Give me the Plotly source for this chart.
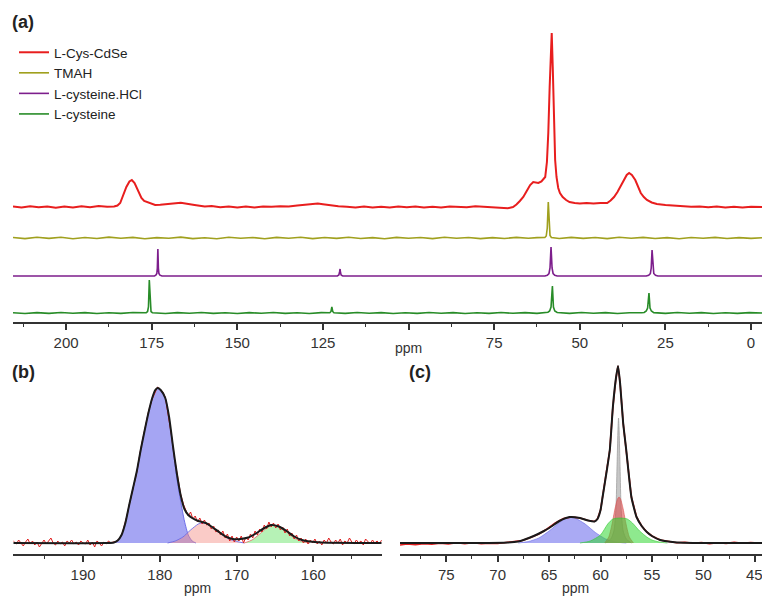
import plotly.graph_objects as go

# ---------------- Panel (a): stacked 13C spectra (ppm, intensity) ----------------
cdse = [(215.5,0.5),(213,-0.5),(210.5,0.8),(208,-0.3),(205.5,0.6),(203,-0.8),(200.5,0.4),(198,-0.5),
        (195.5,0.7),(193,-0.2),(190.5,0.9),(188,0.3),(186,0.6),(185,1.5),(184.2,4),(183.3,12),(182.4,20),
        (181.5,25.5),(180.8,27),(180,24),(179,16),(178,9),(177.2,6),(176.4,5),(175.5,3.5),(174,2),
        (172.5,2.2),(171,2.5),(169.5,3),(168,3.8),(166.5,4.2),(165.5,3.8),(164,3),(162.5,2),(161,1.2),
        (159.5,0.5),(157.5,1),(155,-0.3),(152.5,0.6),(150,-0.5),(147.5,0.4),(145,-0.4),(142.5,0.5),
        (140,0.2),(137.5,0.8),(135,0.5),(132.5,1.5),(130,2.5),(128,3.2),(126.5,3.5),(125,2.8),(123,1.8),
        (120.5,0.8),(118,0.2),(115.5,-0.5),(113,0.5),(110.5,-0.4),(108,0.3),(105.5,-0.6),(103,0.4),
        (100.5,-0.3),(98,0.5),(95.5,-0.5),(93,0.2),(90.5,-0.4),(88,0.6),(85.5,0.2),(83,-0.3),(80.5,0.8),
        (78,0.3),(75.5,-0.4),(73,-1),(71,-1.2),(69.5,0),(68.5,2.5),(67.5,6),(66.5,10),(65.5,16),(64.5,22),
        (63.6,25),(62.8,24.5),(62.1,24),(61.2,25.5),(60.6,27.5),(60.1,30),(59.6,45),(59.2,74),(58.8,120),
        (58.5,155),(58.2,174),(57.9,140),(57.6,90),(57.2,47),(56.8,30),(56.3,19),(55.8,14),(55,10),(54,7),
        (53,5),(51.5,4),(50,3.5),(48,4),(46,3.5),(44,4),(42,4),(41,6.5),(40,10),(39,15),(38.2,20),
        (37.2,27),(36.3,32),(35.6,34),(34.8,32),(33.8,27),(33,20),(32.2,14),(31.3,10),(30.4,7),(29,4.5),
        (27.5,3),(25,2),(22.5,1.5),(20,1),(17.5,0.3),(15,0.6),(12.5,-0.3),(10,0.5),(7.5,-0.4),(5,0.3),
        (2.5,-0.5),(0,0.3),(-3.2,0)]

tmah = [(215.5,0.5),(212,-0.6),(208.5,0.7),(205,-0.4),(201.5,0.8),(198,-0.7),(194.5,0.5),(191,-0.5),
        (187.5,0.9),(184,-0.3),(180.5,0.6),(177,-0.8),(173.5,0.4),(170,-0.2),(166.5,0.9),(163,-0.6),
        (159.5,0.3),(156,-0.7),(152.5,0.8),(149,-0.3),(145.5,0.5),(142,-0.8),(138.5,0.6),(135,-0.2),
        (131.5,0.7),(128,-0.6),(124.5,0.5),(121,-0.4),(117.5,0.8),(114,-0.5),(110.5,0.4),(107,-0.7),
        (103.5,0.6),(100,-0.3),(96.5,0.5),(93,-0.6),(89.5,0.7),(86,-0.2),(82.5,0.5),(79,-0.6),(75.5,0.4),
        (72,-0.5),(68.5,0.6),(65,-0.3),(62.5,0.4),(60.8,0),(60.2,0.5),(59.8,2),(59.5,10),(59.2,36),
        (58.95,10),(58.7,2.5),(58.3,0.5),(56,-0.5),(52.5,0.6),(49,-0.4),(45.5,0.5),(42,-0.6),(38.5,0.7),
        (35,-0.2),(31.5,0.6),(28,-0.5),(24.5,0.4),(21,-0.7),(17.5,0.5),(14,-0.3),(10.5,0.6),(7,-0.5),
        (3.5,0.4),(0,-0.4),(-3.2,0.3)]

cys_hcl = [(215.5,0),(174.2,0),(173.8,0.8),(173.5,2.5),(173.35,8),(173.2,27),(173.05,8),(172.9,2.5),
           (172.6,0.8),(172,0),(120.8,0),(120.35,1),(120.15,4),(120.0,7),(119.85,3),(119.65,0.8),(119.2,0),
           (60.2,0),(59.5,0.8),(59.0,2.5),(58.7,8),(58.4,29),(58.1,8),(57.8,2.5),(57.3,0.8),(56.6,0),
           (30.6,0),(29.9,0.8),(29.4,2.5),(29.15,8),(28.9,26),(28.65,8),(28.4,2.5),(27.9,0.8),(27.2,0),
           (-3.2,0)]

cys = [(215.5,0.3),(212,-0.5),(208.5,0.4),(205,-0.4),(201.5,0.5),(198,-0.3),(194.5,0.4),(191,-0.5),
       (187.5,0.3),(184,-0.4),(180.5,0.5),(177.5,-0.2),(176.6,0.3),(176.2,1.5),(175.95,6),(175.7,33),
       (175.45,6),(175.2,1.5),(174.8,0.3),(171,-0.5),(167.5,0.4),(164,-0.3),(160.5,0.5),(157,-0.4),
       (153.5,0.3),(150,-0.5),(146.5,0.4),(143,-0.2),(139.5,0.5),(136,-0.4),(132.5,0.3),(129,-0.5),
       (125.5,0.4),(123,0.2),(122.65,1.5),(122.4,6),(122.15,1.5),(121.8,0.2),(118.5,-0.4),(115,0.5),
       (111.5,-0.3),(108,0.4),(104.5,-0.5),(101,0.3),(97.5,-0.4),(94,0.5),(90.5,-0.3),(87,0.4),
       (83.5,-0.5),(80,0.3),(76.5,-0.4),(73,0.5),(69.5,-0.3),(66,0.4),(62.5,-0.4),(60,0.3),(59.3,0.8),
       (58.8,2),(58.4,6),(58.0,27),(57.7,6),(57.3,2),(56.6,0.5),(53,-0.4),(49.5,0.5),(46,-0.3),
       (42.5,0.4),(39,-0.5),(35.5,0.3),(32,0.2),(31.2,0.5),(30.6,2),(30.2,5),(29.8,20),(29.5,5),
       (29.1,2),(28.4,0.4),(25,-0.4),(21.5,0.5),(18,-0.3),(14.5,0.4),(11,-0.5),(7.5,0.3),(4,-0.4),
       (0.5,0.4),(-3.2,0)]

series_names = ["L-Cys-CdSe", "TMAH", "L-cysteine.HCl", "L-cysteine"]
series_data = [cdse, tmah, cys_hcl, cys]

# ---------------- Panel (b): carbonyl region fit ----------------
b_exp = [(199.1,2),(198.7,-1),(198.4,3),(198.1,0),(197.8,-3),(197.5,1),(197.2,4),(196.9,-1),(196.6,2),
         (196.3,-2),(196.0,1),(195.7,-4),(195.4,0),(195.1,3),(194.8,-1),(194.5,2),(194.2,5),(193.9,0),
         (193.6,-2),(193.3,2),(193.0,-1),(192.7,1),(192.4,-3),(192.1,2),(191.8,0),(191.5,3),(191.2,-1),
         (190.9,1),(190.6,-2),(190.3,2),(190.0,0),(189.7,-1),(189.4,3),(189.1,-2),(188.8,1),(188.5,-4),
         (188.2,2),(187.9,0),(187.6,-3),(187.3,1),(187.0,-1),(186.7,2),(186.4,0),(186.1,1),(185.8,1),
         (185.5,3),(185.2,5),(184.9,10),(184.6,18),(184.3,27),(184.0,38),(183.5,56),(183.0,71),(182.5,94),
         (182.0,111),(181.5,131),(181.0,144),(180.6,152),(180.3,156),(180.0,154),(179.7,152),(179.3,146),
         (178.9,129),(178.5,108),(178.1,85),(177.7,66),(177.3,49),(176.9,38),(176.6,33),(176.3,27),
         (176.0,31),(175.7,24),(175.4,27),(175.1,21),(174.8,25),(174.5,19),(174.2,23),(173.9,18),
         (173.6,20),(173.3,14),(173.0,17),(172.7,11),(172.4,13),(172.1,8),(171.8,12),(171.5,5),(171.2,9),
         (170.9,2),(170.6,7),(170.3,1),(170.0,6),(169.7,2),(169.4,7),(169.1,0),(168.8,6),(168.5,3),
         (168.2,9),(167.9,5),(167.6,12),(167.3,8),(167.0,14),(166.7,11),(166.4,18),(166.1,14),(165.8,21),
         (165.5,16),(165.2,20),(164.9,15),(164.6,19),(164.3,13),(164.0,16),(163.7,10),(163.4,14),(163.1,7),
         (162.8,10),(162.5,4),(162.2,8),(161.9,2),(161.6,5),(161.3,0),(161.0,4),(160.7,-1),(160.4,3),
         (160.1,0),(159.8,4),(159.5,-1),(159.2,2),(158.9,-2),(158.6,3),(158.3,0),(158.0,5),(157.7,1),
         (157.4,-1),(157.1,3),(156.8,0),(156.5,4),(156.2,-2),(155.9,2),(155.6,0),(155.3,5),(155.0,1),
         (154.7,-1),(154.4,3),(154.1,0),(153.8,2),(153.5,-2),(153.2,4),(152.9,1),(152.6,-1),(152.3,3),
         (152.0,0),(151.7,2),(151.4,-1),(151.1,3)]

b_fit = [(199.1,0),(187,0),(186,0.5),(185.5,2.5),(185,8),(184.5,20),(184,38),(183.5,55),(183,72),
         (182.5,93),(182,112),(181.5,130),(181,145),(180.6,153),(180.3,155),(179.9,153),(179.3,145),
         (178.8,126),(178.3,97),(177.8,70),(177.3,48),(176.8,34),(176.3,28),(175.8,25),(175,22),
         (174.5,21),(174,20),(173.2,16),(172.2,10.5),(171.3,6),(170.5,4),(169.5,4),(168.5,5.5),
         (167.5,9.5),(166.5,14.5),(165.5,18),(164.5,16.5),(163.5,12),(162.5,6.5),(161.5,3),(160.5,1.5),
         (159,0.5),(151.1,0)]

b_comp_blue = [(187,0),(186,0.5),(185.5,2),(185,8),(184.5,20),(184,38),(183.5,55),(183,72),(182.5,93),
               (182,112),(181.5,130),(181,145),(180.6,153),(180.3,155),(179.9,153),(179.3,145),(178.8,125),
               (178.3,95),(177.8,65),(177.3,42),(176.8,22),(176.3,8),(175.8,2),(175.3,0)]
b_comp_pink = [(179,0),(178,2),(177,6),(176,13),(175,19),(174.5,20),(174,19.5),(173,15),(172,9),
               (171,4),(170,1.5),(169,0)]
b_comp_green = [(169,0),(168,3),(167,9),(166,15.5),(165.4,18),(164.5,16),(163.5,11),(162.5,5),
                (161.5,1.5),(160.5,0)]

# ---------------- Panel (c): aliphatic region fit ----------------
c_exp = [(79.5,-2),(78.8,-1),(78,-1.8),(77.2,-0.6),(76.4,-1.2),(75.6,-0.3),(74.8,-0.9),(74,0.2),
         (73.2,-0.6),(72.4,0.3),(71.6,-0.8),(70.8,-0.2),(70,-0.5),(69.2,0.4),(68.4,1),(67.6,2.5),
         (66.8,5.5),(66,9),(65.2,14),(64.4,20),(63.6,24.5),(62.8,26),(62,25),(61.2,22.5),(60.6,21.5),
         (60.3,24),(60.0,33),(59.8,46),(59.4,72),(59.1,93),(58.8,136),(58.5,165),(58.3,177),(58.1,160),
         (57.8,120),(57.5,93),(57,46),(56.5,26),(56,17),(55.5,11),(55,7),(54.2,3),(53.4,1.5),(52.6,0.2),
         (51.8,0.8),(51,-0.3),(50.2,0.5),(49.4,-0.6),(48.6,0.3),(47.8,-0.4),(47,0.6),(46.2,-0.2),
         (45.4,0.5),(44.3,-0.3)]

c_fit = [(79.5,0),(72,0),(69,0.5),(68,1.5),(67.5,3),(66.5,7),(65.5,12),(65,15),(64,22),(63,26),
         (62,25),(61.2,22.5),(60.6,21.5),(60.3,24),(60.0,33),(59.8,46),(59.4,72),(59.1,93),(58.8,136),
         (58.5,165),(58.3,177),(58.1,160),(57.8,120),(57.5,93),(57,46),(56.5,26),(56,17),(55.5,11),
         (55,7),(54.2,3),(53,1),(52,0.3),(44.3,0)]

c_comp_blue = [(68,0),(67,1.5),(66,5),(65,12),(64,20.5),(63.2,25.5),(62.5,25),(61.5,19),(60.5,10.5),
               (59.5,4),(58.5,1),(57.5,0)]
c_comp_grey = [(59.5,0),(59.0,4),(58.7,12),(58.5,35),(58.4,75),(58.3,115),(58.25,125),(58.2,115),
               (58.1,75),(58.0,35),(57.8,12),(57.5,4),(57.0,0)]
c_comp_red = [(59.6,0),(59.2,6),(58.9,18),(58.6,34),(58.35,44),(58.2,46),(58.05,44),(57.8,34),
              (57.5,18),(57.2,6),(56.8,0)]
c_comp_green = [(62,0),(61,2),(60,8),(59.3,19),(58.8,24),(58.1,25),(57.4,24),(56.9,20),(56.2,12),
                (55.5,6),(55,3),(54.2,0.8),(53.5,0)]

ticks_a = [200, 175, 150, 125, 100, 75, 50, 25, 0]
ticktext_a = ["200", "175", "150", "125", "", "75", "50", "25", "0"]
ticks_b = [190, 180, 170, 160]
ticks_c = [75, 70, 65, 60, 55, 50, 45]
ticktext_c = ["75", "70", "65", "60", "55", "50", ""]

# ---------------- layout constants ----------------
W, H = 762, 597
stack_offsets = [115, 84, 46, 9]
line_colors = ["rgb(232,30,30)", "rgb(160,160,30)", "rgb(125,30,140)", "rgb(40,140,40)"]
line_widths = [2, 1.6, 1.6, 1.6]
base_bc = 11
FONT = "Arial, Liberation Sans, sans-serif"
AX = "#333333"


def split(pairs, off=0.0):
    xs = [p[0] for p in pairs]
    ys = [p[1] + off for p in pairs]
    return xs, ys


fig = go.Figure()

for name, data, off, col, lw in zip(series_names, series_data, stack_offsets, line_colors, line_widths):
    x, y = split(data, off)
    fig.add_trace(go.Scatter(x=x, y=y, mode="lines", name=name, line=dict(color=col, width=lw),
                             xaxis="x", yaxis="y", showlegend=True))

def comp(pairs, fillcol, linecol, xa, ya):
    x, y = split(pairs, base_bc)
    fig.add_trace(go.Scatter(x=x, y=y, mode="lines", fill="toself", fillcolor=fillcol,
                             line=dict(color=linecol, width=1, shape="spline", smoothing=0.6),
                             xaxis=xa, yaxis=ya, showlegend=False, hoverinfo="skip"))

comp(b_comp_blue, "rgba(100,100,235,0.58)", "rgba(100,100,230,0.9)", "x2", "y2")
comp(b_comp_pink, "rgba(245,140,130,0.45)", "rgba(110,110,230,0.9)", "x2", "y2")
comp(b_comp_green, "rgba(110,230,110,0.5)", "rgba(230,90,90,0.7)", "x2", "y2")

x, y = split(b_exp, base_bc)
fig.add_trace(go.Scatter(x=x, y=y, mode="lines", line=dict(color="rgb(225,30,30)", width=1),
                         xaxis="x2", yaxis="y2", showlegend=False))
x, y = split(b_fit, base_bc)
fig.add_trace(go.Scatter(x=x, y=y, mode="lines", line=dict(color="#1a1a1a", width=2, shape="spline", smoothing=0.6),
                         xaxis="x2", yaxis="y2", showlegend=False))

comp(c_comp_blue, "rgba(100,100,235,0.55)", "rgba(100,100,230,0.6)", "x3", "y3")
comp(c_comp_grey, "rgba(185,185,185,0.8)", "rgba(160,160,160,0.8)", "x3", "y3")
comp(c_comp_red, "rgba(220,80,80,0.6)", "rgba(220,80,80,0.6)", "x3", "y3")
comp(c_comp_green, "rgba(50,215,50,0.55)", "rgba(50,200,50,0.6)", "x3", "y3")

x, y = split(c_exp, base_bc)
fig.add_trace(go.Scatter(x=x, y=y, mode="lines", line=dict(color="rgb(225,30,30)", width=1.6),
                         xaxis="x3", yaxis="y3", showlegend=False))
x, y = split(c_fit, base_bc)
fig.add_trace(go.Scatter(x=x, y=y, mode="lines", line=dict(color="#1a1a1a", width=2, shape="spline", smoothing=0.5),
                         xaxis="x3", yaxis="y3", showlegend=False))

axis_common = dict(showline=True, linecolor=AX, linewidth=1.5, ticks="outside", ticklen=6, tickwidth=1.5,
                   tickcolor=AX, showgrid=False, zeroline=False, tickfont=dict(size=15, color="#333", family=FONT),
                   fixedrange=True)

fig.update_layout(
    width=W, height=H, autosize=False,
    margin=dict(l=0, r=0, t=0, b=0),
    paper_bgcolor="white", plot_bgcolor="white",
    font=dict(family=FONT, color="#222"),
    xaxis=dict(domain=[13 / W, 1.0], range=[215.5, -3.2], anchor="y", tickmode="array",
               tickvals=ticks_a, ticktext=ticktext_a,
               minor=dict(tickmode="linear", tick0=0, dtick=12.5, ticks="outside", ticklen=3.5,
                          tickwidth=1.2, tickcolor=AX),
               **axis_common),
    yaxis=dict(domain=[1 - 322 / H, 1.0], range=[0, 322], visible=False, fixedrange=True),
    xaxis2=dict(domain=[13.3 / W, 381.7 / W], range=[199.1, 151.1], anchor="y2", tickmode="array",
                tickvals=ticks_b,
                minor=dict(tickmode="linear", tick0=0, dtick=5, ticks="outside", ticklen=3.5,
                           tickwidth=1.2, tickcolor=AX),
                **axis_common),
    yaxis2=dict(domain=[1 - 554 / H, 1 - 360 / H], range=[0, 194], visible=False, fixedrange=True),
    xaxis3=dict(domain=[400 / W, 1.0], range=[79.5, 44.3], anchor="y3", tickmode="array",
                tickvals=ticks_c, ticktext=ticktext_c,
                minor=dict(tickmode="linear", tick0=0, dtick=2.5, ticks="outside", ticklen=3.5,
                           tickwidth=1.2, tickcolor=AX),
                **axis_common),
    yaxis3=dict(domain=[1 - 554 / H, 1 - 360 / H], range=[0, 194], visible=False, fixedrange=True),
    legend=dict(x=14 / W, y=1 - 37 / H, xanchor="left", yanchor="top", bgcolor="rgba(0,0,0,0)",
                font=dict(size=13.5, color="#222", family=FONT), tracegroupgap=0, itemwidth=30),
    annotations=[
        dict(text="<b>(a)</b>", x=10 / W, y=1 - 22 / H, xref="paper", yref="paper", xanchor="left",
             yanchor="middle", showarrow=False, font=dict(size=18, color="#222")),
        dict(text="<b>(b)</b>", x=10 / W, y=1 - 372 / H, xref="paper", yref="paper", xanchor="left",
             yanchor="middle", showarrow=False, font=dict(size=18, color="#222")),
        dict(text="<b>(c)</b>", x=407 / W, y=1 - 372 / H, xref="paper", yref="paper", xanchor="left",
             yanchor="middle", showarrow=False, font=dict(size=18, color="#222")),
        dict(text="ppm", x=100, y=1 - 348 / H, xref="x", yref="paper", xanchor="center",
             yanchor="middle", showarrow=False, font=dict(size=14, color="#333")),
        dict(text="ppm", x=175.1, y=1 - 588 / H, xref="x2", yref="paper", xanchor="center",
             yanchor="middle", showarrow=False, font=dict(size=14, color="#333")),
        dict(text="ppm", x=62.4, y=1 - 588 / H, xref="x3", yref="paper", xanchor="center",
             yanchor="middle", showarrow=False, font=dict(size=14, color="#333")),
        dict(text="45", x=45, y=1 - 574 / H, xref="x3", yref="paper", xanchor="center",
             yanchor="middle", showarrow=False, font=dict(size=15, color="#333", family=FONT)),
    ],
)

fig.write_html("out.html", config={"displayModeBar": False},
               post_script="document.body.style.margin='0';")
